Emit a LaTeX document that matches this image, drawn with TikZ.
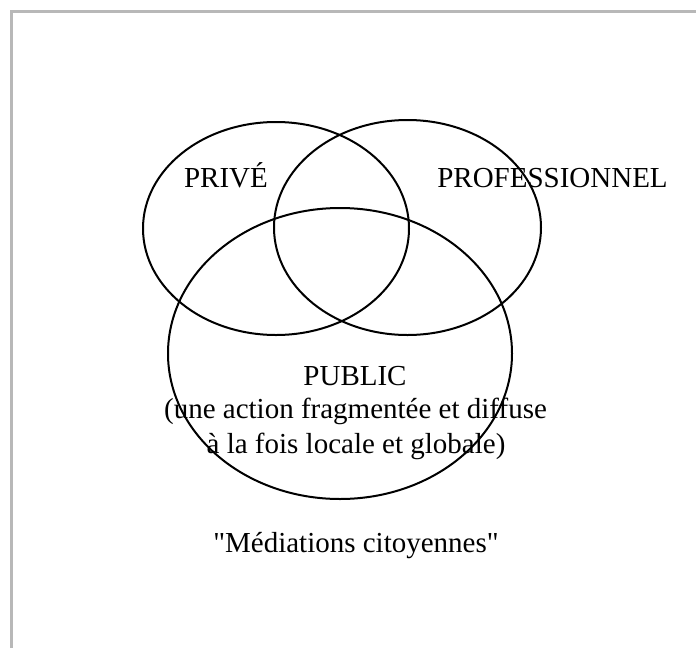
\documentclass[tikz,border=0pt]{standalone}
\usepackage{fontspec}
\setmainfont{Liberation Serif}[Ligatures=TeXOff]
\usetikzlibrary{shapes.geometric, positioning}

\begin{document}
\begin{tikzpicture}[x=1pt, y=-1pt,
    krag/.style={draw=black, line width=2pt, ellipse, inner sep=0pt},
    etykieta/.style={font=\fontsize{29}{34}\selectfont, inner sep=0pt, anchor=base}]
  % ============================================================
  % Uklad w pikselach: (0,0) = lewy gorny rog, y w dol
  % ============================================================

  % === TLO I RAMKA (tylko gora i lewa strona) ===
  \useasboundingbox (0,0) rectangle (696,648);
  \fill[white] (0,0) rectangle (696,648);
  \draw[black!28, line width=3pt] (11.5,648) -- (11.5,11.5) -- (696,11.5);

  % === ELIPSY ===
  \node[krag, minimum width=266pt, minimum height=213pt] (prive) at (276,228.5) {};
  \node[krag, minimum width=267pt, minimum height=215pt] (pro) at (407.5,227.5) {};
  \node[krag, minimum width=344pt, minimum height=291pt] (public) at (340,353.5) {};

  % === ETYKIETY ===
  \node[etykieta] (tprive) at (226,187) {PRIVÉ};
  \node[etykieta] (tpro) at (552.5,187) {PROFESSIONNEL};
  \node[etykieta] (tpublic) at (355,385) {PUBLIC};
  \node[etykieta] (topis1) at (355.5,418) {(une action fragmentée et diffuse};
  \node[etykieta] (topis2) at (356,453) {à la fois locale et globale)};

  % === PODPIS ===
  \node[etykieta] (tmediacje) at (356,552) {"Médiations citoyennes"};
\end{tikzpicture}
\end{document}
